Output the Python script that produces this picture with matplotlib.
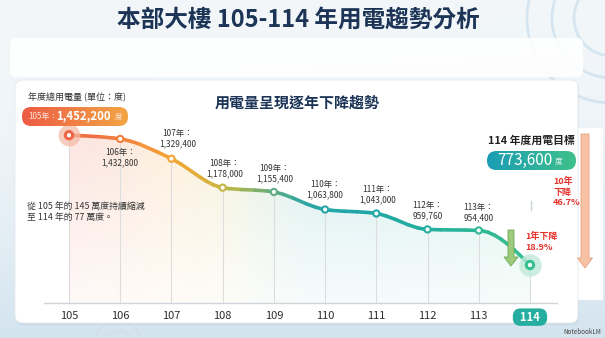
import numpy as np
import matplotlib
matplotlib.use("Agg")
import matplotlib.pyplot as plt
from matplotlib.path import Path
from matplotlib.patches import FancyBboxPatch, PathPatch, FancyArrow, Circle, Rectangle
from matplotlib.collections import LineCollection
from matplotlib.colors import LinearSegmentedColormap, to_rgb

plt.rcParams['font.family'] = ['Noto Sans CJK TC', 'DejaVu Sans']

# ------------------------------------------------------------------------------
# data
years = [105, 106, 107, 108, 109, 110, 111, 112, 113, 114]
usage = [1452200, 1432800, 1329400, 1178000, 1155400, 1063800, 1043000, 959760, 954400, 773600]
year_labels = [str(y) for y in years]

title = '本部大樓 105-114 年用電趨勢分析'
subtitle = '用電量呈現逐年下降趨勢'
unit_text = '年度總用電量 (單位：度)'
note_text = '從 105 年的 145 萬度持續縮減\n至 114 年的 77 萬度。'
target_text = '114 年度用電目標'

navy = '#1c3557'
red = '#e8322c'
line_cmap = LinearSegmentedColormap.from_list('usage', [
    (0.0, '#ee6548'), (0.1, '#f07d40'), (0.22, '#f4a437'), (0.3, '#dcb13c'),
    (0.36, '#b3b84c'), (0.44, '#62ad80'), (0.52, '#2aa6a6'), (0.65, '#1fa6a8'),
    (0.8, '#26b09e'), (1.0, '#36bf8f')])


# ==============================================================================
def monotone_path(x, y):
    # smooth monotone curve (same idea as d3 curveMonotoneX), drawn as beziers
    x = np.asarray(x, float)
    y = np.asarray(y, float)
    h = np.diff(x)
    s = np.diff(y) / h
    t = np.zeros_like(y)
    for i in range(1, len(x) - 1):
        p = (s[i - 1] * h[i] + s[i] * h[i - 1]) / (h[i - 1] + h[i])
        t[i] = (np.sign(s[i - 1]) + np.sign(s[i])) * min(abs(s[i - 1]), abs(s[i]), 0.5 * abs(p))
    t[0] = (3 * s[0] - t[1]) / 2
    t[-1] = (3 * s[-1] - t[-2]) / 2
    verts = [(x[0], y[0])]
    codes = [Path.MOVETO]
    for i in range(len(x) - 1):
        d = h[i] / 3
        verts += [(x[i] + d, y[i] + d * t[i]), (x[i + 1] - d, y[i + 1] - d * t[i + 1]), (x[i + 1], y[i + 1])]
        codes += [Path.CURVE4] * 3
    return verts, codes


def pill(ax, x0, y0, x1, y1, c0, c1, r):
    box = FancyBboxPatch((x0, y0), x1 - x0, y1 - y0, boxstyle=f'round,pad=0,rounding_size={r}',
                         fc='none', ec='none')
    ax.add_patch(box)
    grad = np.linspace(0, 1, 64)[None, :, None]
    img = (1 - grad) * np.array(to_rgb(c0)) + grad * np.array(to_rgb(c1))
    im = ax.imshow(img, extent=(x0, x1, y1, y0), aspect='auto', zorder=2)
    im.set_clip_path(box)


# ==============================================================================
fig = plt.figure(figsize=(6.05, 3.38), dpi=100)

# background / decoration layer in pixel coordinates
bg = fig.add_axes([0, 0, 1, 1])
bg.set_xlim(0, 605)
bg.set_ylim(338, 0)
bg.axis('off')

v = np.linspace(0, 1, 100)[:, None, None]
hgrad = np.linspace(0, 1, 100)[None, :, None]
top_c = np.array(to_rgb('#f3f7fa'))
bot_c = np.array(to_rgb('#d3e4ef'))
bg_img = (1 - v ** 2) * top_c + v ** 2 * bot_c
bg_img = bg_img * (1 - 0.04 * hgrad) + 0.04 * hgrad * np.array(to_rgb('#d8e8f2'))
bg.imshow(bg_img, extent=(0, 605, 338, 0), aspect='auto', zorder=0)

for r in (38, 60, 85):
    bg.add_patch(Circle((612, 18), r, fill=False, ec='#cfe2ee', lw=2.0, alpha=0.8, zorder=0.5))
for r in (14, 24):
    bg.add_patch(Circle((118, 345), r, fill=False, ec='#d2dde5', lw=1.0, alpha=0.8, zorder=0.5))

# top strip and card
bg.add_patch(FancyBboxPatch((10, 38), 573, 39, boxstyle='round,pad=0,rounding_size=6',
                            fc='white', ec='none', alpha=0.9, zorder=1))
bg.add_patch(FancyBboxPatch((16, 82), 563, 243, boxstyle='round,pad=0,rounding_size=8',
                            fc='#b9c9d6', ec='none', alpha=0.35, zorder=1))
bg.add_patch(FancyBboxPatch((15, 80), 563, 243, boxstyle='round,pad=0,rounding_size=8',
                            fc='white', ec='#e4e9ed', lw=0.6, zorder=1.2))
bg.add_patch(Rectangle((576, 128), 27, 172, fc='white', ec='none', zorder=1.1))

bg.text(298, 20, title, ha='center', va='center', fontsize=17, fontweight='bold', color=navy)

# ------------------------------------------------------------------------------
# chart axes
ax = fig.add_axes([44 / 605, 35 / 338, 513 / 605, 219 / 338])
ax.patch.set_alpha(0)
x_lo = 105 - 25 / 51.22
ax.set_xlim(x_lo, x_lo + 513 / 51.22)
y_bot, y_top = 575000, 1720000
ax.set_ylim(y_bot, y_top)
for side in ('top', 'left', 'right'):
    ax.spines[side].set_visible(False)
ax.spines['bottom'].set_color('#cfd5da')
ax.spines['bottom'].set_linewidth(1.0)
ax.set_yticks([])
ax.set_xticks(years, year_labels[:-1] + ['  ' + year_labels[-1] + '  '])
ax.tick_params(axis='x', length=0, pad=5.5, labelsize=8, labelcolor='#2d2d2d')
last = ax.get_xticklabels()[-1]
last.set_color('white')
last.set_fontweight('bold')
last.set_bbox(dict(boxstyle='round,pad=0.2,rounding_size=0.7', fc='#25ae9f', ec='none'))

norm = plt.Normalize(years[0], years[-1])

verts, codes = monotone_path(years, usage)
curve = Path(verts, codes)

# gradient fill under the curve
fill_path = Path(verts + [(years[-1], y_bot), (years[0], y_bot), (years[0], usage[0])],
                 codes + [Path.LINETO, Path.LINETO, Path.CLOSEPOLY])
clip = PathPatch(fill_path, transform=ax.transData, fc='none', ec='none')
ax.add_patch(clip)
cols = line_cmap(np.linspace(0, 1, 200))[:, :3]
alpha = np.linspace(0.04, 0.17, 100)[:, None, None]
rgba = np.concatenate([np.broadcast_to(cols[None, :, :], (100, 200, 3)),
                       np.broadcast_to(alpha, (100, 200, 1))], axis=2)
im = ax.imshow(rgba, extent=(years[0], years[-1], y_bot, max(usage)), origin='lower',
               aspect='auto', zorder=1)
im.set_clip_path(clip)

ax.vlines(years, y_bot, usage, colors='#dddddd', lw=0.8, zorder=2)

# gradient line
disp = curve.to_polygons(transform=ax.transData, closed_only=False)[0]
pts = ax.transData.inverted().transform(disp)
segs = np.stack([pts[:-1], pts[1:]], axis=1)
mid = 0.5 * (pts[:-1, 0] + pts[1:, 0])
ax.add_collection(LineCollection(segs, colors=line_cmap(norm(mid)), linewidths=2.6,
                                 capstyle='round', zorder=3))

# markers
ax.scatter(years[0], usage[0], s=250, color='#f5b9a2', alpha=0.7, lw=0, zorder=3.5)
ax.scatter(years[-1], usage[-1], s=260, color='#bfe9da', alpha=0.8, lw=0, zorder=3.5)
ax.scatter(years[1:-1], usage[1:-1], s=20, facecolors='white',
           edgecolors=line_cmap(norm(years[1:-1])), linewidths=1.5, zorder=4)
ax.scatter([years[0], years[-1]], [usage[0], usage[-1]], s=28, facecolors='white',
           edgecolors=[line_cmap(0.0), line_cmap(1.0)], linewidths=2.2, zorder=4)

# point labels
offsets = [None, (0, -19), (6, 20), (2, 19), (1, 18), (0, 19.5), (1, 19), (0, 19), (0, 18), None]
for yr, val, off in zip(years, usage, offsets):
    if off is None:
        continue
    ax.annotate(f'{yr}年：\n{val:,}', (yr, val), xytext=off, textcoords='offset pixels',
                ha='center', va='center', fontsize=6, color='#333333', linespacing=1.15, zorder=5)

# ------------------------------------------------------------------------------
# foreground annotations in pixel coordinates
fg = fig.add_axes([0, 0, 1, 1])
fg.set_xlim(0, 605)
fg.set_ylim(338, 0)
fg.axis('off')
fg.patch.set_alpha(0)

fg.text(28, 97, unit_text, ha='left', va='center', fontsize=6.5, color='#333333')
pill(fg, 22, 107, 128, 126, '#ec5c44', '#f3a544', 9)
fg.text(28, 116.5, f'{years[0]}年：', ha='left', va='center', fontsize=5.8, color='#ffe6da', zorder=3)
fg.text(56, 116, f'{usage[0]:,}', ha='left', va='center', fontsize=8.2, fontweight='bold',
        color='white', zorder=3)
fg.text(115, 117, '度', ha='left', va='center', fontsize=5.3, color='#ffe6da', zorder=3)

fg.text(297, 103, subtitle, ha='center', va='center', fontsize=10.8, fontweight='bold', color=navy)

fg.text(27, 212, note_text, ha='left', va='center', fontsize=6.4, color='#333333', linespacing=1.35)

fg.text(531, 141, target_text, ha='center', va='center', fontsize=7.8, fontweight='bold', color='#222222')
pill(fg, 487, 151, 576, 170, '#1a9db3', '#3fc08c', 9.5)
fg.text(497, 160.5, f'{usage[-1]:,}', ha='left', va='center', fontsize=11, color='white', zorder=3)
fg.text(555, 162, '度', ha='left', va='center', fontsize=5.5, color='#e6f7f0', zorder=3)

drop_10 = (usage[0] - usage[-1]) / usage[0] * 100
drop_1 = (usage[-2] - usage[-1]) / usage[-2] * 100
fg.text(553, 192, f'10年\n下降\n{drop_10:.1f}%', ha='left', va='center', fontsize=6.5,
        fontweight='bold', color=red, linespacing=1.2)
fg.text(525, 242, f'1年下降\n{drop_1:.1f}%', ha='left', va='center', fontsize=6.5,
        fontweight='bold', color=red, linespacing=1.2)

fg.add_patch(FancyArrow(511, 230, 0, 36, width=6, head_width=14, head_length=9,
                        length_includes_head=True, fc='#9dcb7b', ec='#6fa75a', lw=0.6, zorder=4))
fg.add_patch(FancyArrow(585, 134, 0, 134, width=8, head_width=15, head_length=10,
                        length_includes_head=True, fc='#f7c3a4', ec='#e3a07c', lw=0.6, zorder=4))
fg.plot([531, 531], [201, 210], color='#c8d2d8', lw=1.0)

fg.text(601, 332, 'NotebookLM', ha='right', va='center', fontsize=4.5, color='#444444')

fig.savefig('out.png', dpi=100)
